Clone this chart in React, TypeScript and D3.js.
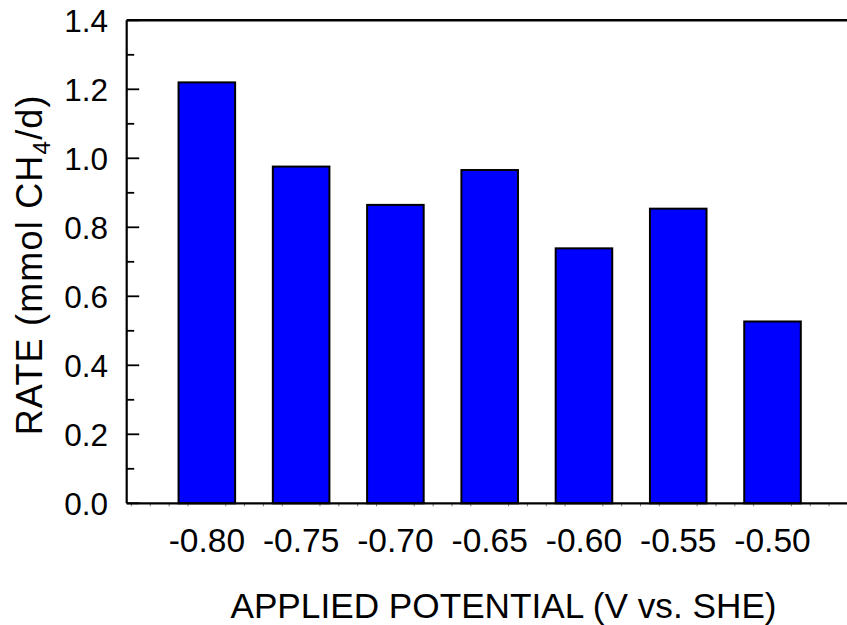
import React from "react";
import * as d3 from "d3";

// Methane production rate at each applied potential
const potentials = [-0.8, -0.75, -0.7, -0.65, -0.6, -0.55, -0.5];
const rates = [1.22, 0.976, 0.865, 0.966, 0.739, 0.854, 0.527];
const xTickLabels = ["-0.80", "-0.75", "-0.70", "-0.65", "-0.60", "-0.55", "-0.50"];
const yMajorTicks = [0, 0.2, 0.4, 0.6, 0.8, 1.0, 1.2, 1.4];
const yMinorTicks = [0.1, 0.3, 0.5, 0.7, 0.9, 1.1, 1.3];
const xMinorTicks = d3
  .range(-84, -45)
  .filter((v) => v % 5 !== 0)
  .map((v) => v / 100);

const W = 847;
const H = 625;
const FONT = "'Liberation Sans', Arial, sans-serif";

export default function App() {
  const left = 126.7;
  const top = 20.3;
  const bottom = 503.3;
  const x = d3.scaleLinear().domain([-0.8425, -0.4605]).range([left, W]);
  const y = d3.scaleLinear().domain([0, 1.4]).range([bottom, top]);
  const barW = x(0.03) - x(0);

  return (
    <svg
      width={W}
      height={H}
      style={{ position: "absolute", left: 0, top: 0, background: "#fff" }}
      fontFamily={FONT}
    >
      {/* bars */}
      {potentials.map((p, i) => (
        <rect
          key={p}
          x={x(p) - barW / 2}
          y={y(rates[i])}
          width={barW}
          height={y(0) - y(rates[i])}
          fill="#0000ff"
          stroke="#000"
          strokeWidth={2}
        />
      ))}

      {/* x minor ticks below axis */}
      {xMinorTicks.map((v) => (
        <line
          key={v}
          x1={x(v)}
          x2={x(v)}
          y1={bottom}
          y2={bottom + 3}
          stroke="#777"
          strokeWidth={1}
        />
      ))}

      {/* y ticks, inward */}
      {yMajorTicks.map((v) => (
        <line key={"M" + v} x1={left} x2={left + 12.5} y1={y(v)} y2={y(v)} stroke="#000" strokeWidth={1.8} />
      ))}
      {yMinorTicks.map((v) => (
        <line key={"m" + v} x1={left} x2={left + 7.5} y1={y(v)} y2={y(v)} stroke="#000" strokeWidth={1.8} />
      ))}

      {/* frame */}
      <line x1={left} x2={W} y1={top} y2={top} stroke="#000" strokeWidth={2.5} />
      <line x1={left} x2={left} y1={top} y2={bottom} stroke="#000" strokeWidth={2.2} />
      <line x1={left} x2={W} y1={bottom} y2={bottom} stroke="#000" strokeWidth={2.2} />

      {/* y tick labels */}
      {yMajorTicks.map((v) => (
        <text
          key={"l" + v}
          x={108}
          y={y(v)}
          dy="0.36em"
          textAnchor="end"
          fontSize={31.5}
          fill="#000"
        >
          {v.toFixed(1)}
        </text>
      ))}

      {/* x tick labels */}
      {potentials.map((p, i) => (
        <text key={"xl" + p} x={x(p)} y={551.7} textAnchor="middle" fontSize={33.5} fill="#000">
          {xTickLabels[i]}
        </text>
      ))}

      {/* axis titles */}
      <text x={503.5} y={617.5} textAnchor="middle" fontSize={35.2} fill="#000">
        APPLIED POTENTIAL (V vs. SHE)
      </text>
      <text
        transform={`translate(42,${(top + bottom) / 2 + 3}) rotate(-90)`}
        textAnchor="middle"
        fontSize={36}
        letterSpacing={1.2}
        fill="#000"
      >
        RATE (mmol CH
        <tspan fontSize={24} dy={8}>4</tspan>
        <tspan dy={-8}>/d)</tspan>
      </text>
    </svg>
  );
}
